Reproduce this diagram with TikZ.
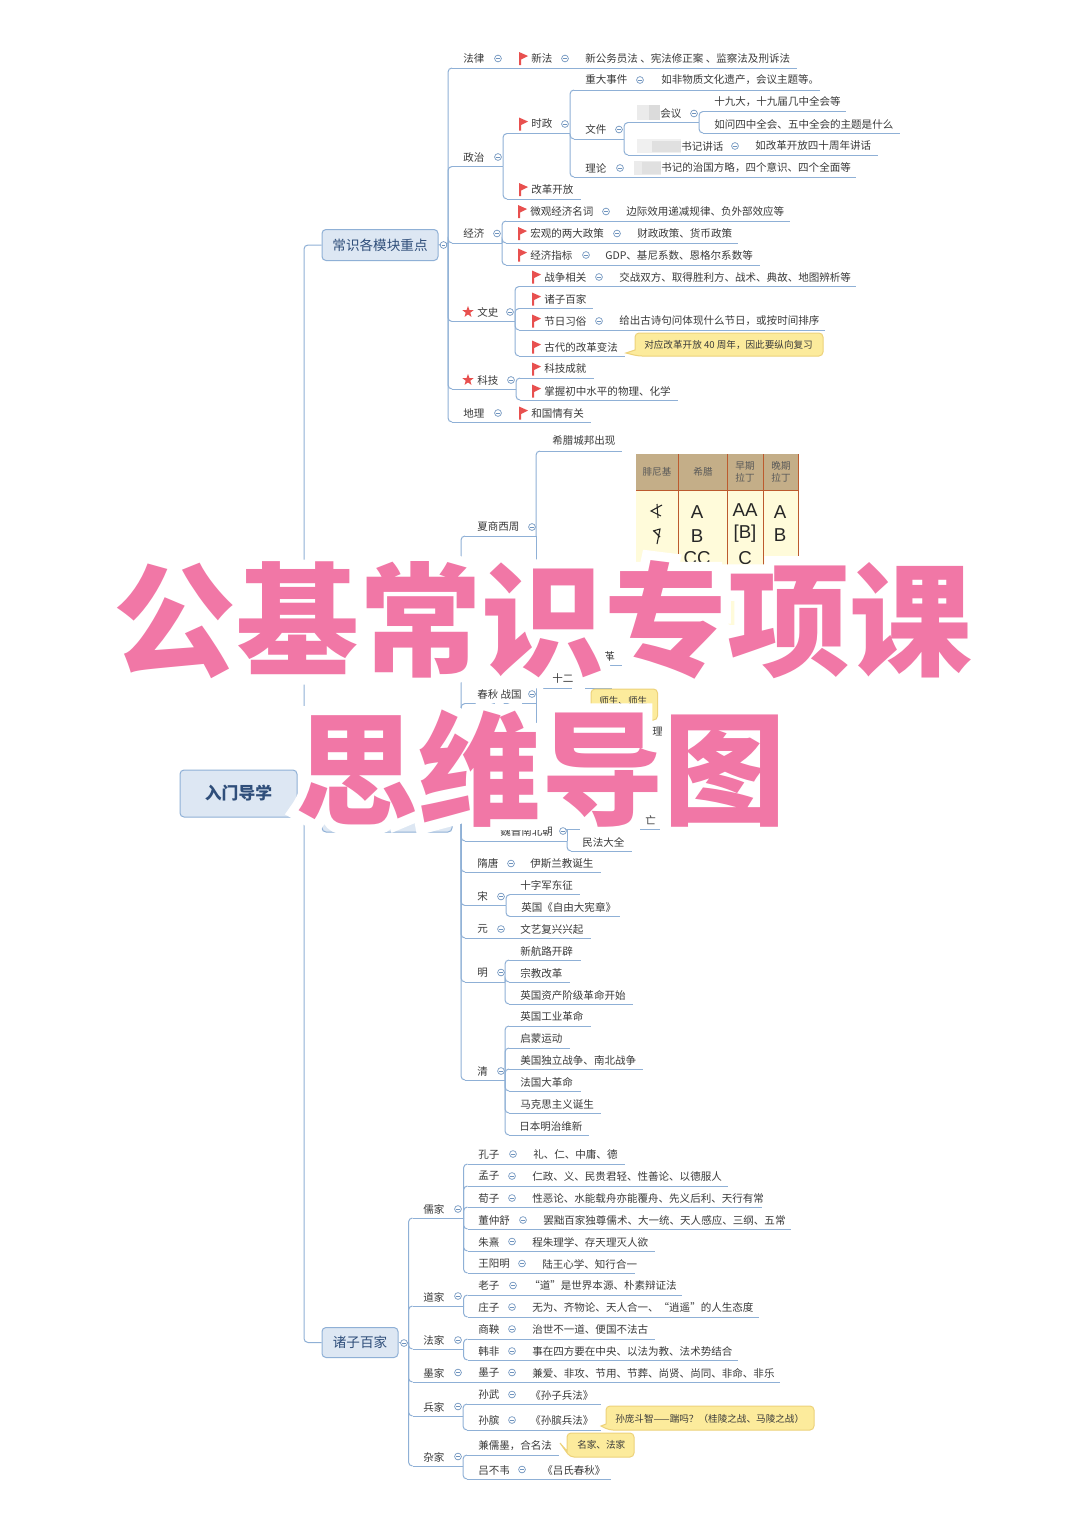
\documentclass[tikz,border=0pt]{standalone}
\usepackage{fontspec}
\setmainfont{Noto Sans CJK SC}
\setsansfont{Noto Sans CJK SC}
\newfontface\heavyfont{Noto Sans CJK SC Black}
\newfontface\halofont{Noto Sans CJK SC Black}[FakeBold=16]
\newfontfamily\latinfont{Liberation Sans}
\definecolor{linec}{HTML}{8FB0D6}
\definecolor{txtc}{HTML}{3A3A3A}
\definecolor{flagc}{HTML}{E8504F}
\definecolor{boxf}{HTML}{DDE7F3}
\definecolor{boxt}{HTML}{2F4E7A}
\definecolor{yelf}{HTML}{FCEB9C}
\definecolor{yell}{HTML}{EDD27A}
\definecolor{pinkc}{HTML}{F177A6}
\definecolor{cirf}{HTML}{6E93BE}
\definecolor{tabh}{HTML}{C4AE88}
\definecolor{tabb}{HTML}{FFFBDA}
\definecolor{tabl}{HTML}{BC5A2E}
\tikzset{
 lab/.style={font=\fontsize{7.9}{9}\selectfont,text=txtc,inner sep=0pt,anchor=west},
 small/.style={font=\fontsize{7.2}{9}\selectfont,text=txtc,inner sep=0pt,anchor=west},
 ln/.style={draw=linec,line width=0.75pt},
 cn/.style={draw=linec,line width=0.75pt,rounded corners=3pt},
 topbox/.style={draw=linec,fill=boxf,rounded corners=3pt,line width=0.75pt,text=boxt,inner sep=0pt,font=\fontsize{10.2}{12}\selectfont},
 callbox/.style={draw=yell,fill=yelf,line width=0.75pt,rounded corners=3pt},
 th/.style={font=\fontsize{7.2}{8.6}\selectfont,text=black!65,inner sep=0pt,align=center},
 let/.style={font=\latinfont\fontsize{14}{16}\selectfont,text=black!85,inner sep=0pt}
}
\newcommand\tn[4]{\node[lab] (#1) at (#2,#3) {#4};}
\newcommand\bn[7]{\coordinate (#1 L) at (#2,#4);\coordinate (#1 R) at (#3,#4);
 \draw[ln] ([xshift=3pt]#1 L) -- (#1 R);
 \node[lab] (#1) at (#5,#6) {#7};}
\newcommand\cnn[2]{\draw[cn] (#1 R) |- ([xshift=3pt]#2 L);}
\newcommand\cir[2]{\draw[draw=cirf,line width=0.5pt,fill=white] (#1,#2) circle (3.4);\draw[draw=cirf,line width=0.5pt] (#1-1.8,#2) -- (#1+1.8,#2);}
\newcommand\fl[2]{\fill[flagc] (#1,#2-6.5) -- (#1+9,#2-2.5) -- (#1+2,#2+1) -- (#1+2,#2+6.5) -- (#1,#2+6.5) -- cycle;}
\newcommand\st[2]{\fill[flagc] (#1,#2-6) -- (#1+1.5,#2-1.9) -- (#1+5.7,#2-1.9) -- (#1+2.3,#2+.7) -- (#1+3.5,#2+4.9) -- (#1,#2+2.4) -- (#1-3.5,#2+4.9) -- (#1-2.3,#2+.7) -- (#1-5.7,#2-1.9) -- (#1-1.5,#2-1.9) -- cycle;}
\newcommand\callout[6]{\draw[callbox] (#1,#4-6) -- (#1,#3) -- (#2,#3) -- (#2,#4) -- (#1+3,#4) [sharp corners] -- (#5,#6) -- cycle;}
\begin{document}
\begin{tikzpicture}[x=0.75pt,y=-0.75pt]
\useasboundingbox (0,0) rectangle (1080,1528);
\fill[white] (0,0) rectangle (1080,1528);

% main trunk
\node[topbox,font=\bfseries\fontsize{12.6}{14}\selectfont,minimum width=87.75pt,minimum height=35.25pt] (core) at (238.5,793.5) {入门导学};
\node[topbox,minimum width=87pt,minimum height=23.25pt] (rootA) at (380,245) {常识各模块重点};
\node[topbox,minimum width=97.5pt,minimum height=27.75pt] (rootB) at (387,813.5) {};
\node[topbox,minimum width=57pt,minimum height=22.5pt] (rootC) at (360,1342.5) {诸子百家};
\coordinate (hub) at (304,793.5);
\draw[ln] (core.east) -- (hub);
\draw[cn] (hub) |- (rootA.west);
\draw[cn] (hub) |- (rootC.west);
\draw[ln] (hub) -- (rootB.west);

% ===== Section A
\coordinate (rootA R) at (448,243);
\draw[ln] (rootA.east) -- (rootA R);
\cir{443.5}{245}
\bn{fa}{448}{797}{68}{463}{58.5}{法律} \cir{498}{58.5}
\fl{519}{58.5} \tn{faA}{531}{58.5}{新法} \cir{565}{58.5} \tn{faB}{585}{58.5}{新公务员法 、宪法修正案 、监察法及刑诉法}
\bn{zz}{448}{503}{166.5}{463}{157}{政治} \cir{498}{157}
\bn{jj}{448}{502}{243}{463}{233.5}{经济} \cir{497}{233.5}
\bn{ws}{448}{515}{321.5}{477}{312}{文史} \st{468}{312} \cir{510}{312}
\bn{kj}{448}{516}{389}{477}{380}{科技} \st{468}{380} \cir{511}{380}
\bn{dl}{448}{591}{422}{463}{413}{地理} \cir{498}{413}
\fl{519}{413} \tn{dlA}{531}{413}{和国情有关}
\cnn{rootA}{fa}\cnn{rootA}{zz}\cnn{rootA}{jj}\cnn{rootA}{ws}\cnn{rootA}{kj}\cnn{rootA}{dl}
% politics
\bn{sz}{503}{570}{133.5}{531}{124}{时政} \fl{519}{124} \cir{565}{124}
\bn{gg}{503}{581}{199}{531}{189.5}{改革开放} \fl{519}{189.5}
\cnn{zz}{sz}\cnn{zz}{gg}
\bn{zd}{570}{820}{90}{585}{80}{重大事件} \cir{640}{80} \tn{zdB}{661}{80}{如非物质文化遗产，会议主题等。}
\bn{wj}{570}{624}{139}{585}{129.5}{文件} \cir{619}{129.5}
\bn{ll}{570}{856}{177}{585}{168}{理论} \cir{620}{168}
\fill[black!8] (634,161) rectangle (661,175);
\fill[black!12] (642,162) rectangle (661,174);
\tn{llB}{661}{168}{书记的治国方略，四个意识、四个全面等}
\cnn{sz}{zd}\cnn{sz}{wj}\cnn{sz}{ll}
\fill[black!8] (637,105) rectangle (660,120);
\fill[black!14] (649,105) rectangle (660,120);
\bn{hy}{624}{699}{122.5}{660}{113.5}{会议} \cir{694}{113.5}
\fill[black!6] (637,139) rectangle (681,153);
\fill[black!12] (652,141) rectangle (681,152);
\bn{sj}{624}{878}{155}{681}{146}{书记讲话} \cir{735}{146} \tn{sjB}{755}{146}{如改革开放四十周年讲话}
\cnn{wj}{hy}\cnn{wj}{sj}
\bn{sjd}{699}{846}{111.5}{714}{102}{十九大，十九届几中全会等}
\bn{rw}{699}{900}{133}{714}{124}{如问四中全会、五中全会的主题是什么}
\cnn{hy}{sjd}\cnn{hy}{rw}
% economics
\bn{wg}{502}{790}{221}{530}{211.5}{微观经济名词} \fl{518}{211.5} \cir{606}{211.5} \tn{wgB}{626}{211.5}{边际效用递减规律、负外部效应等}
\bn{hg}{502}{738}{243}{530}{233.5}{宏观的两大政策} \fl{518}{233.5} \cir{617}{233.5} \tn{hgB}{637}{233.5}{财政政策、货币政策}
\bn{zb}{502}{760}{265}{530}{255}{经济指标} \fl{518}{255} \cir{586}{255} \tn{zbB}{605}{255}{GDP、基尼系数、恩格尔系数等}
\cnn{jj}{wg}\cnn{jj}{hg}\cnn{jj}{zb}
% culture
\bn{zz2}{515}{856}{286.5}{544}{277}{战争相关} \fl{532}{277} \cir{599}{277} \tn{zzB}{619}{277}{交战双方、取得胜利方、战术、典故、地图辨析等}
\bn{zzbj}{515}{593}{308.5}{544}{299}{诸子百家} \fl{532}{299}
\bn{jr}{515}{825}{330}{544}{321}{节日习俗} \fl{532}{321} \cir{599}{321} \tn{jrB}{619}{321}{给出古诗句问体现什么节日，或按时间排序}
\bn{gd}{515}{625}{356}{544}{347}{古代的改革变法} \fl{532}{347}
\cnn{ws}{zz2}\cnn{ws}{zzbj}\cnn{ws}{jr}\cnn{ws}{gd}
\callout{635}{823}{333}{356}{626}{353}
\node[small] (gdB) at (644,345) {对应改革开放 40 周年，因此要纵向复习};
% science
\bn{kjA}{516}{594}{378}{544}{369}{科技成就} \fl{532}{369}
\bn{kjB}{516}{678}{400}{544}{391}{掌握初中水平的物理、化学} \fl{532}{391}
\cnn{kj}{kjA}\cnn{kj}{kjB}

% ===== Section B
\coordinate (rootB R) at (461,813.5);
\draw[ln] (rootB.east) -- (rootB R);
\bn{xs}{461}{536}{536}{477}{527}{夏商西周} \cir{532}{527}
\bn{cq}{461}{536}{703.5}{477}{694}{春秋 战国} \cir{532}{694}
\bn{wn}{461}{567}{841}{500}{831}{魏晋南北朝} \cir{563}{831}
\bn{st}{461}{601}{872}{477}{863.5}{隋唐} \cir{511}{863.5} \tn{stB}{530}{863.5}{伊斯兰教诞生}
\bn{so}{461}{506}{905.5}{477}{896.5}{宋} \cir{501}{896.5}
\bn{yu}{461}{591}{938}{477}{929}{元} \cir{501}{929} \tn{yuB}{520}{929}{文艺复兴兴起}
\bn{mi}{461}{505}{982}{477}{972.5}{明} \cir{501}{972.5}
\bn{qi}{461}{505}{1080}{477}{1071}{清} \cir{501}{1071}
\cnn{rootB}{xs}\cnn{rootB}{cq}\cnn{rootB}{wn}\cnn{rootB}{st}\cnn{rootB}{so}\cnn{rootB}{yu}\cnn{rootB}{mi}\cnn{rootB}{qi}
\bn{xl}{536}{622}{451}{552}{441}{希腊城邦出现}
\cnn{xs}{xl}
\coordinate (xsEnd) at (536,660);
\draw[ln] (xs R) -- (xsEnd);
% table picture
\fill[tabb] (636,490) rectangle (798,625);
\fill[tabh] (636,454) rectangle (798,490);
\draw[tabl,line width=0.6pt] (636,490) -- (798,490) (678,454) -- (678,625) (727,454) -- (727,625) (763,454) -- (763,625) (798,454) -- (798,625);
\node[th] (thA) at (657,472) {腓尼基};
\node[th] (thB) at (703,472) {希腊};
\node[th] (thC) at (745,472) {早期\\拉丁};
\node[th] (thD) at (781,472) {晚期\\拉丁};
\draw[black!85,line width=0.8pt] (662,505) -- (651,511) -- (661,516) (657,504) -- (658,518);
\draw[black!85,line width=0.8pt] (653,531) -- (660,529) -- (657,544) (654,531) -- (660,537);
\node[let] (lA1) at (697,512) {A};
\node[let] (lB1) at (697,536) {B};
\node[let] (lC1) at (745,510) {AA};
\node[let] (lC2) at (745,534) {[B]};
\node[let] (lC3) at (745,558) {C};
\node[let] (lD1) at (780,512) {A};
\node[let] (lD2) at (780,535) {B};
\node[let] (lA3) at (697,558) {CC};
% hidden rows
\node[lab] (gee) at (604,656) {革};
\coordinate (geL) at (605,665);\coordinate (geR) at (622,665);\draw[ln] (geL) -- (geR);
\coordinate (cqT) at (536,688);\coordinate (cqB) at (536,725);
\draw[ln] (cqT) -- (cqB);
\node[lab] (shi) at (552,678) {十二};
\coordinate (shL) at (542,688);\coordinate (shR) at (572,688);\draw[ln] (shL) -- (shR);
\coordinate (shL2) at (585,688);\coordinate (shR2) at (612,688);\draw[ln] (shL2) -- (shR2);
\draw[callbox] (591,689) rectangle (657.5,720);
\node[small] (tea) at (599,701) {师生、师生};
\node[lab] (lii) at (652,732) {理};
\node[lab] (wng) at (645,820) {亡};
\coordinate (wgL) at (640,829);\coordinate (wgR) at (660,829);\draw[ln] (wgL) -- (wgR);
\coordinate (wnT) at (567,829);\draw[ln] (wn R) -- (wnT);
\draw[cn] (wnT) -- (569,829) -- (580,829);
\bn{mf}{567}{632}{851}{582}{842}{民法大全}
\cnn{wn}{mf}
\bn{sA}{506}{580}{894.5}{520}{885}{十字军东征}
\bn{sB}{506}{620}{916.5}{521}{907}{英国《自由大宪章》}
\cnn{so}{sA}\cnn{so}{sB}
\bn{mA}{505}{581}{960}{520}{951}{新航路开辟}
\bn{mB}{505}{570}{982}{520}{973}{宗教改革}
\bn{mC}{505}{633}{1004}{520}{995}{英国资产阶级革命开始}
\cnn{mi}{mA}\cnn{mi}{mB}\cnn{mi}{mC}
\bn{qA}{505}{591}{1026}{520}{1016.5}{英国工业革命}
\bn{qB}{505}{570}{1048}{520}{1038.5}{启蒙运动}
\bn{qC}{505}{643}{1069}{520}{1060}{美国独立战争、南北战争}
\bn{qD}{505}{581}{1091}{520}{1082}{法国大革命}
\bn{qE}{505}{601}{1113}{520}{1104}{马克思主义诞生}
\bn{qF}{505}{589}{1135}{519}{1126}{日本明治维新}
\cnn{qi}{qA}\cnn{qi}{qB}\cnn{qi}{qC}\cnn{qi}{qD}\cnn{qi}{qE}\cnn{qi}{qF}

% ===== Section C
\coordinate (rootC R) at (408.5,1342.5);
\draw[ln] (rootC.east) -- (rootC R);
\cir{404}{1343}
\bn{rj}{408.5}{463.5}{1218}{423}{1209}{儒家} \cir{458}{1209}
\bn{dj}{408.5}{463.5}{1306}{423}{1297}{道家} \cir{458}{1296}
\bn{fj}{408.5}{463.5}{1349}{423}{1340}{法家} \cir{458}{1340}
\bn{mj}{408.5}{780}{1382}{423}{1373}{墨家} \cir{458}{1372.5}
\bn{bj}{408.5}{463}{1416}{423}{1407}{兵家} \cir{458}{1406.5}
\bn{zj}{408.5}{463}{1466}{423}{1457}{杂家} \cir{458}{1456.5}
\cnn{rootC}{rj}\cnn{rootC}{dj}\cnn{rootC}{fj}\cnn{rootC}{mj}\cnn{rootC}{bj}\cnn{rootC}{zj}
\bn{kz}{463.5}{625}{1164}{478}{1154.5}{孔子} \cir{513}{1154} \tn{kzB}{533}{1154.5}{礼、仁、中庸、德}
\bn{mz}{463.5}{728}{1186}{478}{1176}{孟子} \cir{512}{1176} \tn{mzB}{532}{1176}{仁政、义、民贵君轻、性善论、以德服人}
\bn{xz}{463.5}{762}{1207}{478}{1198}{荀子} \cir{512}{1198} \tn{xzB}{532}{1198}{性恶论、水能载舟亦能覆舟、先义后利、天行有常}
\bn{dz}{463.5}{791}{1229}{478}{1220}{董仲舒} \cir{523}{1220} \tn{dzB}{543}{1220}{罢黜百家独尊儒术、大一统、天人感应、三纲、五常}
\bn{zx}{463.5}{655}{1251}{478}{1242}{朱熹} \cir{512}{1241.5} \tn{zxB}{532}{1242}{程朱理学、存天理灭人欲}
\bn{wy}{463.5}{635}{1273}{478}{1264}{王阳明} \cir{522}{1263.5} \tn{wyB}{542}{1264}{陆王心学、知行合一}
\cnn{rj}{kz}\cnn{rj}{mz}\cnn{rj}{xz}\cnn{rj}{dz}\cnn{rj}{zx}\cnn{rj}{wy}
\bn{lz}{463.5}{682}{1295}{478}{1285.5}{老子} \cir{513}{1285.5} \tn{lzB}{529}{1285.5}{“道”是世界本源、朴素辩证法}
\bn{zu}{463.5}{759}{1317}{478}{1307.5}{庄子} \cir{512}{1307} \tn{zuB}{532}{1307.5}{无为、齐物论、天人合一、“逍遥”的人生态度}
\cnn{dj}{lz}\cnn{dj}{zu}
\bn{sy}{463.5}{655}{1339}{478}{1329}{商鞅} \cir{512}{1329} \tn{syB}{532}{1329}{治世不一道、便国不法古}
\bn{hf}{463.5}{738}{1360}{478}{1351}{韩非} \cir{512}{1351} \tn{hfB}{532}{1351}{事在四方要在中央、以法为教、法术势结合}
\cnn{fj}{sy}\cnn{fj}{hf}
\tn{mzi}{478}{1373}{墨子} \cir{512}{1372.5} \tn{mziB}{532}{1373}{兼爱、非攻、节用、节葬、尚贤、尚同、非命、非乐}
\bn{sw}{463}{601}{1404}{478}{1395}{孙武} \cir{512}{1394.5} \tn{swB}{530}{1395}{《孙子兵法》}
\bn{sb}{463}{601}{1430}{478}{1420.5}{孙膑} \cir{512}{1420} \tn{sbB}{530}{1420.5}{《孙膑兵法》}
\cnn{bj}{sw}\cnn{bj}{sb}
\callout{606}{814}{1406}{1430}{601}{1426}
\node[small] (sbC) at (615,1418.5) {孙庞斗智——踹吗？（桂陵之战、马陵之战）};
\bn{jr2}{463}{559}{1455}{478}{1445.5}{兼儒墨，合名法}
\bn{lb}{463}{611}{1479}{478}{1470}{吕不韦} \cir{522}{1469.5} \tn{lbB}{542}{1470}{《吕氏春秋》}
\cnn{zj}{jr2}\cnn{zj}{lb}
\callout{567}{634}{1433}{1457}{560}{1443}
\node[small] (jrC) at (577,1445) {名家、法家};

% ===== Title overlay
\node[inner sep=0pt,text=white,font=\halofont\fontsize{92}{100}\selectfont] (haloA) at (543,620) {公基常识专项课};
\node[inner sep=0pt,text=white,font=\halofont\fontsize{92}{100}\selectfont] (haloB) at (541,769) {思维导图};
\node[inner sep=0pt,text=pinkc,font=\heavyfont\fontsize{92}{100}\selectfont] (titleA) at (543,620) {公基常识专项课};
\node[inner sep=0pt,text=pinkc,font=\heavyfont\fontsize{92}{100}\selectfont] (titleB) at (541,769) {思维导图};
\end{tikzpicture}
\end{document}
